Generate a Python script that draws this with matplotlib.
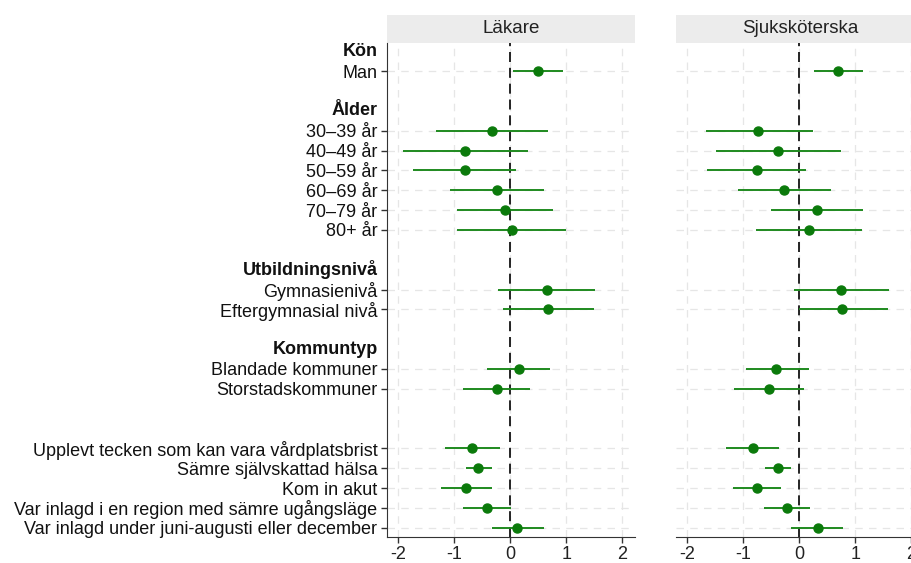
import matplotlib
matplotlib.use("Agg")
import matplotlib.pyplot as plt
from matplotlib.patches import Rectangle
from matplotlib import transforms

plt.rcParams['font.family'] = ['Liberation Sans', 'DejaVu Sans']
plt.rcParams['axes.unicode_minus'] = False

# ---- data ----
group_headers = ["Kön", "Ålder", "Utbildningsnivå", "Kommuntyp", ""]
group_items = [
    ["Man"],
    ["30–39 år", "40–49 år", "50–59 år", "60–69 år", "70–79 år", "80+ år"],
    ["Gymnasienivå", "Eftergymnasial nivå"],
    ["Blandade kommuner", "Storstadskommuner"],
    ["Upplevt tecken som kan vara vårdplatsbrist", "Sämre självskattad hälsa",
     "Kom in akut", "Var inlagd i en region med sämre ugångsläge",
     "Var inlagd under juni-augusti eller december"],
]
panel_titles = ["Läkare", "Sjuksköterska"]

lak_est = [0.50, -0.32, -0.80, -0.80, -0.24, -0.10, 0.03, 0.66, 0.68, 0.15, -0.24,
           -0.69, -0.57, -0.79, -0.41, 0.13]
lak_lo = [0.05, -1.33, -1.92, -1.74, -1.08, -0.95, -0.95, -0.21, -0.13, -0.41, -0.84,
          -1.17, -0.79, -1.24, -0.84, -0.33]
lak_hi = [0.94, 0.67, 0.31, 0.11, 0.61, 0.76, 0.99, 1.52, 1.50, 0.71, 0.36,
          -0.18, -0.33, -0.33, 0.02, 0.60]

ssk_est = [0.70, -0.73, -0.38, -0.76, -0.27, 0.32, 0.17, 0.74, 0.77, -0.41, -0.54,
           -0.83, -0.38, -0.76, -0.21, 0.33]
ssk_lo = [0.26, -1.67, -1.49, -1.64, -1.09, -0.51, -0.77, -0.10, -0.01, -0.95, -1.16,
          -1.31, -0.61, -1.18, -0.63, -0.15]
ssk_hi = [1.14, 0.24, 0.74, 0.13, 0.56, 1.14, 1.12, 1.60, 1.58, 0.18, 0.08,
          -0.36, -0.15, -0.32, 0.20, 0.78]

x_ticks = [-2, -1, 0, 1, 2]

# ---- row layout ----
item_pos, item_labels, header_pos = [], [], []
pos = 0
for gi, (h, items) in enumerate(zip(group_headers, group_items)):
    if gi > 0:
        pos += 1  # blank row
    header_pos.append(pos)
    pos += 1
    for it in items:
        item_pos.append(pos)
        item_labels.append(it)
        pos += 1

W, H = 912, 563
fig = plt.figure(figsize=(W / 100, H / 100), dpi=100)
ax_top, ax_bot = 42.7, 537.3
ax_w = 248
axes = []
for left in (387, 676):
    ax = fig.add_axes([left / W, 1 - ax_bot / H, ax_w / W, (ax_bot - ax_top) / H])
    axes.append(ax)

FS = 13
green_line = '#1f8a1f'
green_pt = '#0b7a0b'
series = [(lak_est, lak_lo, lak_hi), (ssk_est, ssk_lo, ssk_hi)]
for i, (ax, (est, lo, hi), title) in enumerate(zip(axes, series, panel_titles)):
    ax.set_xlim(-2.2, 2.23)
    ax.set_ylim(24.48, -0.43)
    ax.set_axisbelow(True)
    ax.grid(True, color='#e6e6e6', ls=(0, (6, 5)), lw=0.9)
    ax.axvline(0, color='black', ls=(0, (6, 3.5)), lw=1.2, zorder=2)
    ax.hlines(item_pos, lo, hi, color=green_line, lw=1.4, zorder=3)
    ax.plot(est, item_pos, 'o', color=green_pt, ms=6.5, zorder=4)
    ax.set_xticks(x_ticks)
    ax.set_xticklabels([str(t) for t in x_ticks])
    ax.set_yticks(item_pos)
    for s in ['top', 'right']:
        ax.spines[s].set_visible(False)
    ax.spines['bottom'].set_color('#333333')
    ax.tick_params(axis='x', length=4.5, width=1, color='#333333', labelsize=FS,
                   labelcolor='#222222', pad=1.5)
    if i == 0:
        ax.spines['left'].set_color('#333333')
        ax.set_yticklabels(item_labels)
        ax.tick_params(axis='y', length=4.5, width=1, color='#333333', labelsize=FS,
                       labelcolor='#111111', pad=2.5)
        off = transforms.offset_copy(ax.get_yaxis_transform(), fig=fig, x=-9.3, y=0, units='dots')
        for h, p in zip(group_headers, header_pos):
            if h:
                ax.text(0, p, h, transform=off, ha='right', va='center',
                        fontsize=FS, fontweight='bold', color='#111111')
    else:
        ax.spines['left'].set_visible(False)
        ax.tick_params(axis='y', left=False, labelleft=False)
    strip_h = 27.7 / (ax_bot - ax_top)
    ax.add_patch(Rectangle((0, 1), 1, strip_h, transform=ax.transAxes,
                           facecolor='#ececec', edgecolor='none', clip_on=False))
    ax.text(0.5, 1 + strip_h / 2, title, transform=ax.transAxes, ha='center',
            va='center', fontsize=13.5, color='#222222')

fig.savefig('out.png', dpi=100)
